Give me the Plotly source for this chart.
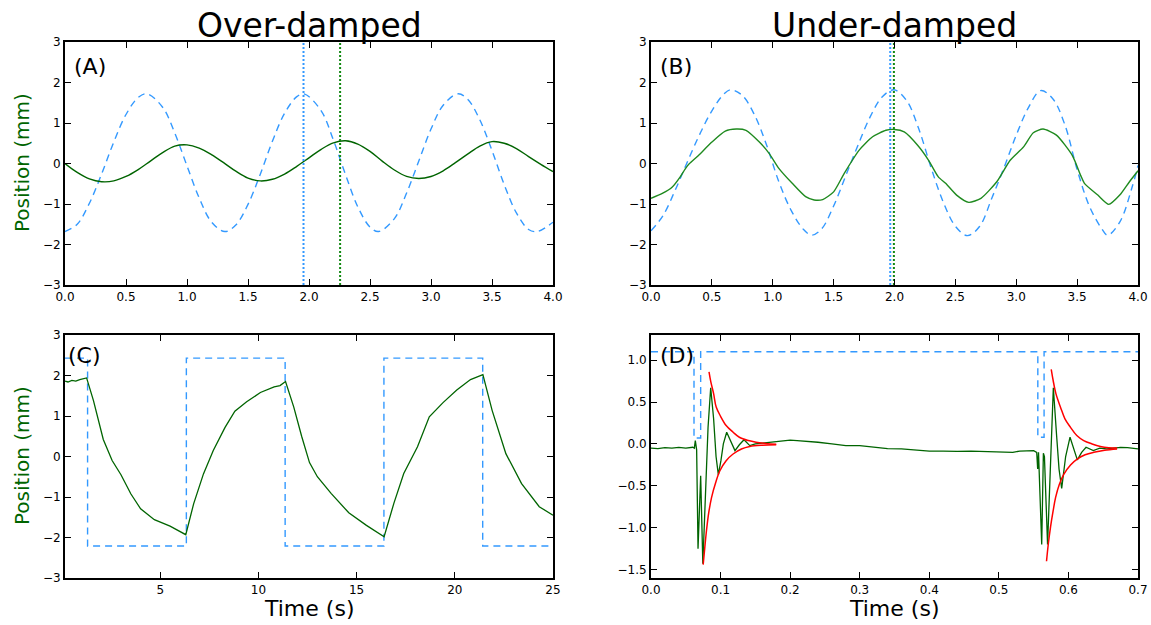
import plotly.graph_objects as go

# ---------------- data ----------------
# Panel A (over-damped, sine drive)
a_drive_t = [0.0, 0.1, 0.2, 0.3, 0.4, 0.5, 0.6, 0.67, 0.8, 0.9, 1.0, 1.1, 1.2, 1.31, 1.4, 1.5, 1.6, 1.7,
             1.8, 1.9, 1.96, 2.1, 2.2, 2.3, 2.4, 2.5, 2.57, 2.7, 2.8, 2.9, 3.0, 3.1, 3.22, 3.3, 3.4, 3.5,
             3.6, 3.7, 3.8, 3.87, 4.0]
a_drive_y = [-1.68, -1.50, -0.98, -0.26, 0.53, 1.21, 1.63, 1.72, 1.39, 0.75, -0.06, -0.85, -1.44, -1.68,
             -1.52, -1.01, -0.27, 0.55, 1.24, 1.65, 1.72, 1.30, 0.58, -0.28, -1.07, -1.57, -1.68, -1.36,
             -0.73, 0.06, 0.85, 1.44, 1.72, 1.59, 1.08, 0.32, -0.52, -1.22, -1.63, -1.68, -1.45]
a_resp_t = [0.0, 0.1, 0.2, 0.3, 0.4, 0.5, 0.6, 0.7, 0.8, 0.9, 1.0, 1.1, 1.2, 1.3, 1.4, 1.5, 1.6, 1.7, 1.8,
            1.9, 2.0, 2.1, 2.2, 2.3, 2.4, 2.5, 2.6, 2.7, 2.8, 2.9, 3.0, 3.1, 3.2, 3.3, 3.4, 3.5, 3.6, 3.7,
            3.8, 3.9, 4.0]
a_resp_y = [0.0, -0.22, -0.38, -0.45, -0.43, -0.32, -0.15, 0.06, 0.27, 0.43, 0.46, 0.38, 0.22, 0.02,
            -0.19, -0.36, -0.43, -0.39, -0.26, -0.07, 0.14, 0.35, 0.51, 0.56, 0.48, 0.30, 0.06, -0.16,
            -0.32, -0.37, -0.32, -0.18, 0.02, 0.23, 0.43, 0.54, 0.50, 0.37, 0.17, -0.02, -0.20]
a_drive_peak_t = 1.955
a_resp_peak_t = 2.255

# Panel B (under-damped, sine drive)
b_drive_t = [0.0, 0.1, 0.2, 0.3, 0.4, 0.5, 0.6, 0.655, 0.75, 0.85, 0.95, 1.05, 1.15, 1.25, 1.32, 1.4, 1.5,
             1.6, 1.7, 1.8, 1.9, 1.995, 2.1, 2.2, 2.3, 2.4, 2.5, 2.6, 2.7, 2.8, 2.9, 3.0, 3.1, 3.2, 3.3,
             3.4, 3.5, 3.6, 3.7, 3.75, 3.85, 3.95, 4.0]
b_drive_y = [-1.66, -1.28, -0.65, 0.05, 0.72, 1.30, 1.72, 1.82, 1.68, 1.20, 0.45, -0.45, -1.15, -1.62,
             -1.77, -1.62, -1.05, -0.30, 0.45, 1.15, 1.65, 1.82, 1.55, 0.85, -0.10, -0.95, -1.55, -1.78,
             -1.55, -0.85, -0.10, 0.70, 1.38, 1.80, 1.60, 0.95, -0.15, -1.05, -1.60, -1.77, -1.45, -0.60,
             -0.05]
b_resp_t = [0.0, 0.093, 0.175, 0.24, 0.28, 0.31, 0.39, 0.5, 0.61, 0.7, 0.78, 0.89, 0.97, 1.05, 1.16, 1.27,
            1.34, 1.41, 1.5, 1.586, 1.71, 1.82, 1.93, 2.0, 2.08, 2.19, 2.28, 2.36, 2.42, 2.51, 2.61, 2.71,
            2.84, 2.95, 3.06, 3.14, 3.22, 3.33, 3.46, 3.53, 3.56, 3.67, 3.76, 3.85, 3.93, 4.0]
b_resp_y = [-0.86, -0.74, -0.58, -0.33, -0.14, -0.02, 0.20, 0.53, 0.80, 0.85, 0.82, 0.53, 0.25, -0.12,
            -0.49, -0.82, -0.90, -0.89, -0.70, -0.25, 0.33, 0.66, 0.82, 0.84, 0.78, 0.45, 0.08, -0.33,
            -0.49, -0.78, -0.96, -0.86, -0.45, 0.08, 0.41, 0.76, 0.85, 0.70, 0.20, -0.30, -0.49, -0.78,
            -1.01, -0.78, -0.45, -0.18]
b_drive_peak_t = 1.965
b_resp_peak_t = 1.995

# Panel C (over-damped, square drive)
c_drive_t = [0.15, 1.3, 1.3, 6.33, 6.33, 11.36, 11.36, 16.39, 16.39, 21.42, 21.42, 25.0]
c_drive_y = [2.43, 2.43, -2.21, -2.21, 2.43, 2.43, -2.21, -2.21, 2.43, 2.43, -2.21, -2.21]
c_resp_t = [0.15, 0.3, 0.5, 0.7, 0.9, 1.25, 1.6, 2.1, 2.55, 3.0, 3.5, 4.0, 4.7, 5.5, 6.3, 6.7, 7.2, 7.7,
            8.3, 8.8, 9.4, 10.1, 10.8, 11.1, 11.38, 11.8, 12.2, 12.6, 13.0, 13.7, 14.6, 15.5, 16.4, 16.9,
            17.4, 18.1, 18.7, 19.4, 20.1, 20.8, 21.43, 21.9, 22.6, 23.4, 24.3, 25.0]
c_resp_y = [1.86, 1.84, 1.88, 1.86, 1.90, 1.94, 1.38, 0.42, -0.10, -0.45, -0.92, -1.29, -1.56, -1.72,
            -1.93, -1.17, -0.43, 0.15, 0.72, 1.12, 1.35, 1.58, 1.72, 1.75, 1.85, 1.22, 0.50, -0.15, -0.50,
            -0.91, -1.39, -1.70, -1.98, -1.15, -0.42, 0.24, 0.98, 1.33, 1.64, 1.90, 2.02, 1.14, 0.07,
            -0.67, -1.24, -1.45]

# Panel D (under-damped, step drive)
d_drive_t = [0.0, 0.0618, 0.0618, 0.0714, 0.0714, 0.556, 0.556, 0.565, 0.565, 0.7]
d_drive_y = [1.1, 1.1, 0.07, 0.07, 1.1, 1.1, 0.08, 0.08, 1.1, 1.1]
d_resp_t = [0.0, 0.01, 0.02, 0.03, 0.04, 0.05, 0.06, 0.0623, 0.0637, 0.0656, 0.0676, 0.0714, 0.0745,
            0.078, 0.082, 0.0858, 0.09, 0.0935, 0.0968, 0.1005, 0.104, 0.1088, 0.114, 0.1207, 0.127,
            0.1337, 0.142, 0.15, 0.16, 0.17, 0.18, 0.19, 0.2, 0.21, 0.22, 0.24, 0.26, 0.28, 0.3, 0.32,
            0.34, 0.36, 0.38, 0.4, 0.42, 0.44, 0.46, 0.48, 0.5, 0.51, 0.52, 0.53, 0.54, 0.55, 0.5544,
            0.5558, 0.557, 0.5616, 0.564, 0.5655, 0.570, 0.574, 0.5783, 0.583, 0.5865, 0.5903, 0.596,
            0.6023, 0.607, 0.6128, 0.619, 0.6253, 0.6358, 0.645, 0.655, 0.665, 0.675, 0.685, 0.7]
d_resp_y = [-0.05, -0.055, -0.045, -0.05, -0.04, -0.05, -0.04, -0.05, 0.04, -0.07, -1.25, -0.38, -1.43,
            -0.6, 0.2, 0.67, 0.3, -0.15, -0.37, -0.2, 0.0, 0.14, 0.05, -0.08, -0.01, 0.05, -0.02, 0.0,
            0.01, 0.02, 0.03, 0.035, 0.045, 0.04, 0.035, 0.02, 0.0, -0.02, -0.02, -0.04, -0.055, -0.06,
            -0.07, -0.085, -0.085, -0.09, -0.085, -0.09, -0.09, -0.09, -0.1, -0.085, -0.085, -0.08, -0.1,
            -0.3, -0.1, -1.2, -0.11, -0.15, -1.2, -0.3, 0.67, 0.1, -0.3, -0.53, -0.15, 0.08, -0.05, -0.19,
            -0.1, -0.04, -0.08, -0.05, -0.06, -0.05, -0.04, -0.045, -0.06]
d_env1_up_t = [0.0834, 0.086, 0.09, 0.0937, 0.1, 0.108, 0.118, 0.127, 0.14, 0.151, 0.165, 0.18]
d_env1_up_y = [0.86, 0.74, 0.60, 0.44, 0.33, 0.22, 0.14, 0.08, 0.04, 0.02, 0.005, -0.005]
d_env1_lo_t = [0.075, 0.0775, 0.0798, 0.083, 0.087, 0.093, 0.099, 0.108, 0.118, 0.13, 0.142, 0.16, 0.18]
d_env1_lo_y = [-1.44, -1.22, -1.03, -0.82, -0.64, -0.46, -0.32, -0.20, -0.12, -0.06, -0.03, -0.015, -0.01]
d_env2_up_t = [0.5753, 0.578, 0.582, 0.5887, 0.595, 0.603, 0.612, 0.622, 0.634, 0.646, 0.658, 0.67]
d_env2_up_y = [0.89, 0.76, 0.60, 0.436, 0.30, 0.198, 0.10, 0.04, 0.0, -0.03, -0.045, -0.05]
d_env2_lo_t = [0.5685, 0.571, 0.5743, 0.578, 0.5815, 0.587, 0.5935, 0.603, 0.6126, 0.624, 0.6365, 0.652, 0.67]
d_env2_lo_y = [-1.40, -1.20, -0.99, -0.80, -0.64, -0.48, -0.36, -0.25, -0.18, -0.13, -0.10, -0.075, -0.06]

ab_xticks = [0.0, 0.5, 1.0, 1.5, 2.0, 2.5, 3.0, 3.5, 4.0]
abc_yticks = [-3, -2, -1, 0, 1, 2, 3]
c_xticks = [5, 10, 15, 20, 25]
d_xticks = [0.0, 0.1, 0.2, 0.3, 0.4, 0.5, 0.6, 0.7]
d_yticks = [-1.5, -1.0, -0.5, 0.0, 0.5, 1.0]

# ---------------- style ----------------
FONT = "DejaVu Sans"
BLUE = "#3399ff"
DGREEN = "#006400"
BGREEN = "#1f8a1f"
RED = "#ff0000"
W, H = 1151, 625


def fx(px):
    return px / W


def fy(py):
    return 1 - py / H


fig = go.Figure()


def dashed(x, y, xa, ya, shape="linear"):
    fig.add_trace(go.Scatter(x=x, y=y, mode="lines", xaxis=xa, yaxis=ya,
                             line=dict(color=BLUE, width=1.4, dash="7px,5px", shape=shape)))


def vline(t, color, xa, ya):
    fig.add_trace(go.Scatter(x=[t, t], y=[-3, 3], mode="lines", xaxis=xa, yaxis=ya,
                             line=dict(color=color, width=2, dash="2px,2px")))


# A
dashed(a_drive_t, a_drive_y, "x", "y", "spline")
fig.add_trace(go.Scatter(x=a_resp_t, y=a_resp_y, mode="lines", xaxis="x", yaxis="y",
                         line=dict(color=DGREEN, width=1.4, shape="spline")))
vline(a_drive_peak_t, "#3399ff", "x", "y")
vline(a_resp_peak_t, "#118811", "x", "y")

# B
dashed(b_drive_t, b_drive_y, "x2", "y2", "spline")
fig.add_trace(go.Scatter(x=b_resp_t, y=b_resp_y, mode="lines", xaxis="x2", yaxis="y2",
                         line=dict(color=BGREEN, width=1.4, shape="spline", smoothing=0.6)))
vline(b_drive_peak_t, "#3399ff", "x2", "y2")
vline(b_resp_peak_t, "#118811", "x2", "y2")

# C
dashed(c_drive_t, c_drive_y, "x3", "y3")
fig.add_trace(go.Scatter(x=c_resp_t, y=c_resp_y, mode="lines", xaxis="x3", yaxis="y3",
                         line=dict(color=DGREEN, width=1.3)))

# D
dashed(d_drive_t, d_drive_y, "x4", "y4")
fig.add_trace(go.Scatter(x=d_resp_t, y=d_resp_y, mode="lines", xaxis="x4", yaxis="y4",
                         line=dict(color=DGREEN, width=1.3)))
for tx, ty in [(d_env1_up_t, d_env1_up_y), (d_env1_lo_t, d_env1_lo_y),
               (d_env2_up_t, d_env2_up_y), (d_env2_lo_t, d_env2_lo_y)]:
    fig.add_trace(go.Scatter(x=tx, y=ty, mode="lines", xaxis="x4", yaxis="y4",
                             line=dict(color=RED, width=1.5, shape="spline")))

axis_common = dict(showline=True, linecolor="black", linewidth=1.8, mirror="allticks",
                   ticks="inside", ticklen=6, tickwidth=1, tickcolor="black",
                   showgrid=False, zeroline=False, automargin=False,
                   tickfont=dict(family=FONT, size=12, color="black"))

xdA = [fx(65), fx(553)]
xdB = [fx(651), fx(1138)]
ydT = [fy(285), fy(42)]
ydB = [fy(578), fy(335)]

fig.update_layout(
    template="none",
    width=W, height=H, margin=dict(l=0, r=0, t=0, b=0, pad=0),
    paper_bgcolor="white", plot_bgcolor="white", showlegend=False,
    xaxis=dict(domain=xdA, anchor="y", range=[0, 4], tickvals=ab_xticks, tickformat=".1f", **axis_common),
    yaxis=dict(domain=ydT, anchor="x", range=[-3, 3], tickvals=abc_yticks, **axis_common),
    xaxis2=dict(domain=xdB, anchor="y2", range=[0, 4], tickvals=ab_xticks, tickformat=".1f", **axis_common),
    yaxis2=dict(domain=ydT, anchor="x2", range=[-3, 3], tickvals=abc_yticks, **axis_common),
    xaxis3=dict(domain=xdA, anchor="y3", range=[0.15, 25], tickvals=c_xticks, **axis_common),
    yaxis3=dict(domain=ydB, anchor="x3", range=[-3, 3], tickvals=abc_yticks, **axis_common),
    xaxis4=dict(domain=xdB, anchor="y4", range=[0, 0.7], tickvals=d_xticks, tickformat=".1f", **axis_common),
    yaxis4=dict(domain=ydB, anchor="x4", range=[-1.6, 1.3], tickvals=d_yticks, tickformat=".1f", **axis_common),
)

ann = []
for txt, xc in [("Over-damped", 309), ("Under-damped", 894)]:
    ann.append(dict(text=txt, x=fx(xc), y=fy(25), xref="paper", yref="paper",
                    showarrow=False, xanchor="center", yanchor="middle", borderpad=0,
                    font=dict(family=FONT, size=33, color="black")))
for yc in [163, 456]:
    ann.append(dict(text="Position (mm)", x=fx(22), y=fy(yc), xref="paper", yref="paper",
                    showarrow=False, textangle=-90, xanchor="center", yanchor="middle",
                    font=dict(family=FONT, size=20, color=DGREEN)))
for xc in [309, 894]:
    ann.append(dict(text="Time (s)", x=fx(xc), y=fy(608), xref="paper", yref="paper",
                    showarrow=False, xanchor="center", yanchor="middle", borderpad=0,
                    font=dict(family=FONT, size=22, color="black")))
for lab, xr, yr, px, py in [("(A)", "x domain", "y domain", 0.015, 0.957),
                            ("(B)", "x2 domain", "y2 domain", 0.015, 0.957),
                            ("(C)", "x3 domain", "y3 domain", 0.002, 0.977),
                            ("(D)", "x4 domain", "y4 domain", 0.015, 0.977)]:
    ann.append(dict(text=lab, x=px, y=py, xref=xr, yref=yr, showarrow=False,
                    xanchor="left", yanchor="top",
                    font=dict(family=FONT, size=22, color="black")))
fig.update_layout(annotations=ann)

fig.write_html("out.html", config={"displayModeBar": False},
               post_script="document.body.style.margin='0px';document.body.style.padding='0px';")
